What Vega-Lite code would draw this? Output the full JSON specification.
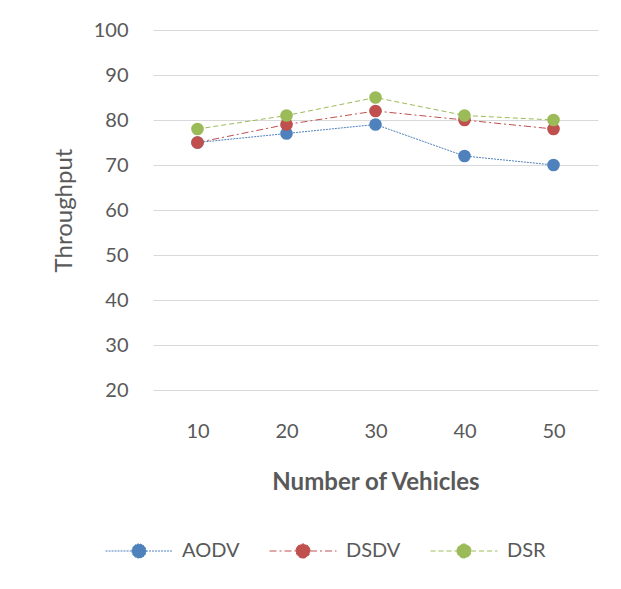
{
  "$schema": "https://vega.github.io/schema/vega-lite/v6.json",
  "width": 445,
  "height": 360,
  "autosize": {"type": "none"},
  "padding": {"left": 153, "top": 30, "right": 23, "bottom": 199},
  "background": "white",
  "config": {
    "view": {"stroke": null},
    "font": "Lato",
    "axis": {"labelFont": "Lato", "titleFont": "Lato", "labelColor": "#595959", "titleColor": "#595959"}
  },
  "data": {
    "values": [
      {"n": "10", "series": "AODV", "v": 75},
      {"n": "20", "series": "AODV", "v": 77},
      {"n": "30", "series": "AODV", "v": 79},
      {"n": "40", "series": "AODV", "v": 72},
      {"n": "50", "series": "AODV", "v": 70},
      {"n": "10", "series": "DSDV", "v": 75},
      {"n": "20", "series": "DSDV", "v": 79},
      {"n": "30", "series": "DSDV", "v": 82},
      {"n": "40", "series": "DSDV", "v": 80},
      {"n": "50", "series": "DSDV", "v": 78},
      {"n": "10", "series": "DSR", "v": 78},
      {"n": "20", "series": "DSR", "v": 81},
      {"n": "30", "series": "DSR", "v": 85},
      {"n": "40", "series": "DSR", "v": 81},
      {"n": "50", "series": "DSR", "v": 80}
    ]
  },
  "encoding": {
    "x": {
      "field": "n", "type": "ordinal", "sort": ["10", "20", "30", "40", "50"],
      "scale": {"type": "point", "padding": 0.5},
      "axis": {
        "title": "Number of Vehicles", "labelAngle": 0, "domain": false, "ticks": false,
        "labelFontSize": 20, "labelPadding": 31, "titleFontSize": 24, "titleFontWeight": "bold",
        "titlePadding": 29
      }
    },
    "y": {
      "field": "v", "type": "quantitative",
      "scale": {"domain": [20, 100], "nice": false, "zero": false},
      "axis": {
        "title": "Throughput", "values": [20, 30, 40, 50, 60, 70, 80, 90, 100],
        "domain": false, "ticks": false, "grid": true, "gridColor": "#D9D9D9", "gridWidth": 1,
        "labelFontSize": 20, "labelPadding": 25, "titleFontSize": 24, "titleFontWeight": "normal",
        "titlePadding": 17
      }
    },
    "color": {
      "field": "series", "type": "nominal",
      "scale": {"domain": ["AODV", "DSDV", "DSR"], "range": ["#4F81BD", "#C0504D", "#9BBB59"]},
      "legend": {
        "title": null, "orient": "none", "direction": "horizontal",
        "legendX": -48, "legendY": 487, "padding": 0,
        "symbolType": "M-1,0H-0.21M0.21,0H1M-0.21,0A0.21,0.21,0,1,1,0.21,0A0.21,0.21,0,1,1,-0.21,0Z",
        "symbolSize": 4489, "symbolStrokeWidth": 1, "labelFontSize": 20, "labelColor": "#595959",
        "labelFont": "Lato", "labelOffset": 9, "columnPadding": 27,
        "encode": {
          "symbols": {
            "update": {
              "fill": {"scale": "color", "field": "value"},
              "stroke": {"scale": "color", "field": "value"},
              "strokeDash": {"scale": "strokeDash", "field": "value"},
              "strokeWidth": {"value": 1},
              "opacity": {"value": 1}
            }
          }
        }
      }
    }
  },
  "layer": [
    {
      "mark": {"type": "line", "strokeWidth": 1},
      "encoding": {
        "strokeDash": {
          "field": "series", "type": "nominal",
          "scale": {"domain": ["AODV", "DSDV", "DSR"], "range": [[2, 1], [7, 3, 2, 3], [5, 3]]},
          "legend": null
        }
      }
    },
    {
      "mark": {"type": "point", "filled": true, "size": 160, "opacity": 1, "shape": "circle"},
      "encoding": {}
    }
  ]
}
